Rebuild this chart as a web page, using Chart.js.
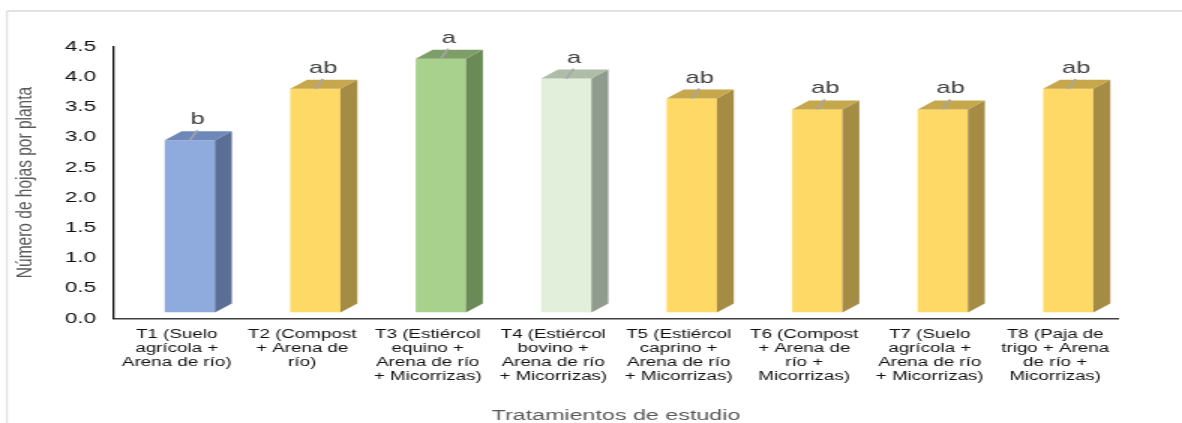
<!DOCTYPE html>
<html>
<head>
<meta charset="utf-8">
<script src="https://cdn.jsdelivr.net/npm/chart.js@4.4.1/dist/chart.umd.min.js"></script>
<style>
  html, body { margin: 0; padding: 0; background: #fff; }
  #chart { display: block; }
</style>
</head>
<body>
<!-- the reference is stretched sideways, so the canvas is drawn narrow and scaled up -->
<canvas id="chart" width="788" height="423" style="width:1182px;height:423px"></canvas>
<script>
const categories = [
  ['T1 (Suelo', 'agrícola +', 'Arena de río)'],
  ['T2 (Compost', '+ Arena de', 'río)'],
  ['T3 (Estiércol', 'equino +', 'Arena de río', '+ Micorrizas)'],
  ['T4 (Estiércol', 'bovino +', 'Arena de río', '+ Micorrizas)'],
  ['T5 (Estiércol', 'caprino +', 'Arena de río', '+ Micorrizas)'],
  ['T6 (Compost', '+ Arena de', 'río +', 'Micorrizas)'],
  ['T7 (Suelo', 'agrícola +', 'Arena de río', '+ Micorrizas)'],
  ['T8 (Paja de', 'trigo + Arena', 'de río +', 'Micorrizas)'],
]
const leafCounts = [2.85, 3.70, 4.20, 3.87, 3.54, 3.36, 3.36, 3.70]
const sigLetters = ['b', 'ab', 'a', 'a', 'ab', 'ab', 'ab', 'ab']
const yTickValues = [0, 0.5, 1, 1.5, 2, 2.5, 3, 3.5, 4, 4.5]

const frontColors = ['#8faadc', '#ffd966', '#a9d18e', '#e2efda', '#ffd966', '#ffd966', '#ffd966', '#ffd966']
const sideColors = ['#5b6e96', '#a58c44', '#6a8a56', '#8f9b8c', '#a58c44', '#a58c44', '#a58c44', '#a58c44']
const topColors = ['#6f88ba', '#c6a74c', '#7e9e68', '#afbca8', '#c6a74c', '#c6a74c', '#c6a74c', '#c6a74c']

const FONT = '"Liberation Sans", Arial, sans-serif'
const SHIFT_X = 8.7, SHIFT_Y = -6   // front face sits right of / above the category slot
const DEPTH_X = 11.3, DEPTH_Y = 9   // 3d depth of the columns

Chart.defaults.font.family = FONT

const frame = {
  id: 'frame',
  beforeDraw(chart) {
    const ctx = chart.ctx
    ctx.save()
    ctx.fillStyle = '#fff'
    ctx.fillRect(0, 0, chart.width, chart.height)
    ctx.strokeStyle = '#d9d9d9'
    ctx.lineWidth = 1.5
    ctx.beginPath()
    ctx.moveTo(chart.width, 11)
    ctx.lineTo(4.7, 11)
    ctx.stroke()
    ctx.lineWidth = 1
    ctx.beginPath()
    ctx.moveTo(4.7, 11)
    ctx.lineTo(4.7, chart.height)
    ctx.stroke()
    ctx.restore()
  },
}

function poly(ctx, pts) {
  ctx.beginPath()
  pts.forEach(([px, py], k) => (k ? ctx.lineTo(px, py) : ctx.moveTo(px, py)))
  ctx.closePath()
  ctx.fill()
}

const bars3d = {
  id: 'bars3d',
  beforeDatasetsDraw(chart) {
    chart.ctx.save()
    chart.ctx.translate(SHIFT_X, SHIFT_Y)
  },
  afterDatasetsDraw(chart) {
    const ctx = chart.ctx
    chart.getDatasetMeta(0).data.forEach((bar, i) => {
      const { x, y, base, width } = bar.getProps(['x', 'y', 'base', 'width'], true)
      const l = x - width / 2, r = x + width / 2
      ctx.fillStyle = sideColors[i]
      poly(ctx, [[r, y], [r + DEPTH_X, y - DEPTH_Y], [r + DEPTH_X, base - DEPTH_Y], [r, base]])
      ctx.fillStyle = topColors[i]
      poly(ctx, [[l, y], [l + DEPTH_X, y - DEPTH_Y], [r + DEPTH_X, y - DEPTH_Y], [r, y]])

      // small leader + significance letter
      ctx.strokeStyle = '#a6a6a6'
      ctx.lineWidth = 1.5
      ctx.beginPath()
      ctx.moveTo(x, y)
      ctx.lineTo(x + 5, y - 10)
      ctx.stroke()
      ctx.fillStyle = '#404040'
      ctx.font = `17px ${FONT}`
      ctx.textAlign = 'center'
      ctx.textBaseline = 'alphabetic'
      ctx.fillText(sigLetters[i], x + 5.3, y - 16)
    })
    ctx.restore()
  },
}

new Chart(document.getElementById('chart'), {
  type: 'bar',
  data: {
    labels: categories,
    datasets: [{
      data: leafCounts,
      backgroundColor: frontColors,
      borderWidth: 0,
      barPercentage: 0.4,
      categoryPercentage: 1,
    }],
  },
  plugins: [frame, bars3d],
  options: {
    responsive: false,
    devicePixelRatio: 1,
    animation: false,
    layout: { padding: { top: 46.5, right: 42.7, left: 0, bottom: 0 } },
    scales: {
      x: {
        grid: { display: false, drawTicks: false },
        border: { display: true, color: '#404040', width: 1.5 },
        ticks: {
          color: '#111',
          font: { size: 12.5, lineHeight: '14px' },
          padding: 9,
          maxRotation: 0,
          minRotation: 0,
          autoSkip: false,
        },
        title: {
          display: true,
          text: 'Tratamientos de estudio',
          color: '#595959',
          font: { size: 15.5, lineHeight: 1 },
          padding: 0,
        },
        afterFit: scale => { scale.height = 104.5 },
      },
      y: {
        min: 0,
        max: 4.5,
        grid: { display: false, drawTicks: false },
        border: { display: true, color: '#111', width: 1.3 },
        afterBuildTicks: scale => { scale.ticks = yTickValues.map(v => ({ value: v })) },
        ticks: {
          color: '#111',
          font: { size: 15 },
          padding: 12,
          callback: val => val.toFixed(1),
        },
        title: {
          display: true,
          text: 'Número de hojas por planta',
          color: '#595959',
          font: { size: 15.5, lineHeight: 1 },
          padding: { top: 8.5, bottom: 0 },
        },
        afterFit: scale => { scale.width = 76 },
      },
    },
    plugins: {
      legend: { display: false },
      tooltip: { enabled: false },
    },
  },
})
</script>
</body>
</html>
